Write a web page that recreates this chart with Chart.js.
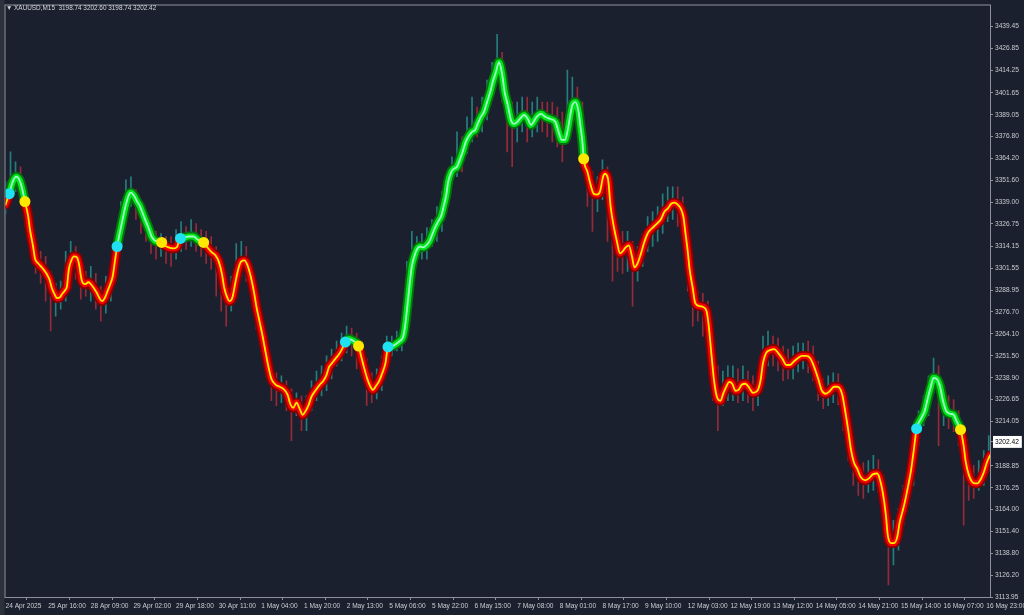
<!DOCTYPE html>
<html><head><meta charset="utf-8">
<script src="https://cdn.jsdelivr.net/npm/chart.js@4.4.1/dist/chart.umd.min.js"></script>
<style>
html,body{margin:0;padding:0;background:#1b202e;overflow:hidden;}
#wrap{position:relative;width:1024px;height:615px;}
#hdr{position:absolute;left:6px;top:4px;color:#d4d6da;font:6.4px "Liberation Sans",Arial,sans-serif;white-space:pre;}
canvas{display:block}
</style></head><body>
<div id="wrap"><canvas id="c" width="1024" height="615"></canvas><div id="hdr">▼ XAUUSD,M15  3198.74 3202.60 3198.74 3202.42</div></div>
<script>
// ---- x axis (bar index of M15 bars) ----
const timeLabels = ["24 Apr 2025","25 Apr 16:00","28 Apr 09:00","29 Apr 02:00","29 Apr 18:00","30 Apr 11:00","1 May 04:00","1 May 20:00","2 May 13:00","5 May 06:00","5 May 22:00","6 May 15:00","7 May 08:00","8 May 01:00","8 May 17:00","9 May 10:00","12 May 03:00","12 May 19:00","13 May 12:00","14 May 05:00","14 May 21:00","15 May 14:00","16 May 07:00","16 May 23:00"];
const barsPerLabel = 68;
const totalBars = 1570;
const barsPerCandle = 8;

// ---- y axis tick labels ----
const priceTicks = [3439.45,3426.85,3414.25,3401.65,3389.05,3376.80,3364.20,3351.60,3339.00,3326.75,3314.15,3301.55,3288.95,3276.70,3264.10,3251.50,3238.90,3226.65,3214.05,3188.85,3176.25,3164.00,3151.40,3138.80,3126.20,3113.95];
const lastPrice = 3202.42;
const priceMin = 3113.95, priceMax = 3451.38;

// ---- trend indicator line ----
const lineBar = [0,6,11,17,22,27,31,36,39,44,
47,52,58,65,70,74,79,82,87,90,
95,98,101,105,109,114,117,122,127,132,
135,141,146,149,154,159,162,167,171,174,
178,182,187,192,197,200,205,209,214,219,
224,229,233,238,243,249,254,260,267,273,
279,286,292,300,306,311,316,322,329,335,
340,345,349,354,357,362,367,372,376,381,
386,391,396,400,405,410,415,420,424,431,
437,443,450,454,459,464,469,474,478,483,
488,494,501,507,512,516,521,526,531,536,
542,548,555,563,567,572,577,582,586,591,
596,601,606,610,617,623,629,634,637,640,
642,645,648,652,656,661,666,671,676,680,
685,690,695,699,703,706,711,715,720,725,
730,734,739,744,749,753,758,763,768,773,
777,782,787,792,796,801,806,811,816,820,
827,833,838,842,847,854,861,869,877,882,
887,892,896,901,904,909,914,917,920,922,
928,933,938,943,948,953,956,961,965,970,
975,980,984,989,994,999,1003,1008,1013,1018,
1024,1029,1034,1039,1045,1051,1056,1062,1067,1072,
1076,1081,1084,1088,1091,1096,1100,1107,1113,1118,
1121,1126,1130,1135,1140,1145,1150,1154,1159,1164,
1169,1174,1180,1186,1192,1199,1204,1208,1213,1220,
1226,1232,1239,1245,1251,1258,1264,1270,1277,1283,
1289,1296,1302,1308,1315,1321,1327,1334,1339,1344,
1348,1353,1358,1364,1371,1377,1383,1390,1394,1399,
1404,1407,1412,1417,1422,1426,1433,1439,1444,1448,
1453,1460,1466,1471,1476,1480,1485,1490,1495,1500,
1506,1512,1517,1523,1528,1531,1536,1541,1546,1550,
1555,1560,1565,1570];
const lineValue = [3337.8,3344.0,3350.3,3353.7,3352.0,3346.3,3339.5,3331.5,3323.6,3313.9,
3307.1,3304.3,3302.0,3298.6,3295.2,3290.1,3286.1,3284.4,3285.0,3286.7,
3288.9,3291.2,3300.9,3306.0,3308.3,3307.7,3304.3,3294.1,3292.4,3293.5,
3292.9,3290.1,3287.2,3285.0,3282.7,3285.0,3287.8,3292.4,3296.9,3304.3,
3313.9,3321.3,3329.8,3337.8,3343.5,3344.6,3342.9,3340.1,3337.2,3332.7,
3328.1,3323.6,3319.6,3317.3,3316.8,3316.2,3314.5,3313.4,3312.8,3313.4,
3318.5,3319.1,3319.6,3319.6,3317.9,3316.8,3316.2,3313.4,3310.5,3308.8,
3305.4,3298.6,3290.1,3284.4,3282.7,3285.0,3294.1,3302.0,3305.4,3306.0,
3303.1,3296.9,3288.4,3279.9,3271.3,3262.8,3253.2,3244.1,3238.4,3235.0,
3233.9,3232.7,3229.3,3224.2,3221.9,3224.8,3221.4,3217.9,3219.7,3223.1,
3228.2,3231.6,3235.0,3237.3,3240.7,3245.2,3247.5,3249.8,3252.0,3254.9,
3259.4,3261.1,3260.0,3257.1,3251.5,3244.6,3238.4,3233.9,3232.1,3234.4,
3237.3,3241.8,3247.5,3256.6,3257.1,3258.3,3260.0,3262.3,3267.9,3277.0,
3283.8,3294.1,3302.6,3308.3,3312.2,3313.9,3313.4,3314.5,3316.8,3320.2,
3324.7,3328.1,3331.5,3337.2,3343.5,3350.9,3356.5,3358.2,3359.4,3363.9,
3369.0,3373.6,3377.0,3379.3,3380.4,3383.8,3387.8,3390.6,3396.3,3402.0,
3407.7,3413.3,3419.0,3412.2,3402.0,3394.6,3386.1,3383.8,3384.9,3386.6,
3388.9,3386.6,3383.2,3384.9,3387.8,3389.5,3387.8,3386.6,3384.9,3379.3,
3374.7,3374.7,3379.3,3389.5,3394.6,3396.3,3390.6,3382.1,3373.6,3363.9,
3356.5,3349.2,3344.0,3343.5,3345.2,3353.7,3355.4,3352.0,3336.7,3325.3,
3316.8,3310.0,3311.1,3313.4,3314.5,3308.3,3302.0,3304.3,3309.4,3315.6,
3321.3,3323.6,3325.3,3327.0,3329.3,3333.8,3335.5,3338.4,3338.9,3337.8,
3336.1,3331.0,3322.5,3311.1,3300.9,3290.1,3281.6,3279.9,3279.3,3277.0,
3270.2,3251.5,3237.3,3227.6,3225.9,3230.4,3234.4,3236.7,3235.6,3231.6,
3232.1,3235.0,3235.6,3233.3,3230.4,3231.6,3237.3,3247.5,3253.2,3254.9,
3255.4,3253.2,3249.8,3246.3,3246.3,3248.6,3250.3,3251.5,3251.5,3250.3,
3245.8,3238.4,3231.6,3229.9,3231.6,3233.9,3233.9,3229.9,3220.2,3208.9,
3198.6,3190.7,3187.3,3182.2,3180.5,3181.6,3183.9,3184.4,3181.6,3173.6,
3160.6,3149.2,3144.7,3144.7,3148.1,3156.6,3166.3,3176.5,3186.1,3196.4,
3210.0,3215.7,3220.2,3227.6,3234.4,3239.0,3238.4,3234.4,3225.9,3220.2,
3218.5,3217.9,3214.0,3209.4,3200.3,3191.8,3183.9,3179.9,3178.8,3178.8,
3181.0,3185.0,3190.7,3194.7];

// ---- trend change signals (bar index) ----
const upSignalBar = [6,178,279,542,610,1453];
const downSignalBar = [31,249,316,563,922,1523];

// ---- price wicks, one per 2 hours (8 bars) ----
const candleHigh = [3350.9,3367.9,3362.2,3359.4,3348.0,3333.8,3317.9,3311.1,3308.3,3299.7,
3292.9,3294.1,3311.1,3316.8,3313.9,3304.3,3299.7,3302.6,3298.6,3291.2,
3296.9,3304.3,3317.9,3339.5,3352.0,3353.7,3346.3,3339.5,3333.8,3327.0,
3322.5,3321.3,3319.6,3319.6,3323.6,3328.1,3325.3,3329.3,3327.0,3323.6,
3322.5,3319.6,3313.9,3305.4,3296.9,3296.9,3315.6,3316.8,3313.9,3304.3,
3288.4,3272.5,3262.8,3247.5,3241.8,3240.1,3237.3,3232.7,3230.4,3228.7,
3228.7,3237.3,3242.9,3245.8,3251.5,3255.4,3260.0,3264.5,3268.5,3267.4,
3264.5,3260.0,3249.8,3241.8,3244.1,3251.5,3262.8,3262.8,3265.7,3268.5,
3305.4,3322.5,3319.6,3321.3,3324.7,3329.3,3336.7,3345.2,3356.5,3365.1,
3379.3,3376.4,3387.8,3399.1,3393.5,3399.1,3408.8,3419.0,3434.9,3424.7,
3407.7,3396.3,3396.3,3399.1,3399.1,3396.3,3399.1,3396.3,3396.3,3396.3,
3393.5,3390.6,3414.5,3410.5,3404.8,3396.3,3370.7,3356.5,3353.7,3363.4,
3359.4,3342.3,3325.3,3322.5,3322.5,3316.8,3313.9,3321.3,3331.0,3333.8,
3336.7,3344.0,3348.0,3348.0,3348.0,3342.3,3322.5,3302.6,3288.4,3287.2,
3282.7,3265.7,3245.8,3242.9,3245.8,3245.8,3244.1,3245.8,3242.9,3240.1,
3241.8,3262.8,3265.7,3262.8,3261.7,3257.1,3255.4,3257.1,3258.8,3258.8,
3260.0,3257.1,3248.6,3238.4,3240.1,3241.8,3241.2,3231.6,3220.2,3203.2,
3191.8,3190.7,3191.8,3194.7,3192.4,3183.3,3163.4,3157.7,3164.6,3177.6,
3189.0,3200.3,3220.2,3228.7,3240.1,3250.3,3245.8,3234.4,3228.7,3226.5,
3220.2,3211.7,3194.7,3189.0,3191.8,3197.5,3206.0];
const candleLow = [3332.7,3339.5,3345.2,3339.5,3325.3,3311.1,3298.6,3292.9,3282.7,3265.7,
3274.2,3278.2,3282.7,3298.6,3295.2,3283.8,3285.5,3282.7,3278.2,3271.3,
3275.9,3282.7,3294.1,3315.6,3331.0,3336.7,3329.3,3321.3,3316.8,3310.0,
3306.6,3308.3,3304.3,3302.6,3306.6,3311.1,3312.2,3313.9,3311.1,3308.3,
3304.3,3300.9,3285.5,3277.0,3268.5,3277.0,3291.2,3296.9,3294.1,3283.8,
3266.8,3254.3,3240.1,3225.9,3223.1,3224.8,3220.2,3203.2,3217.4,3208.9,
3208.9,3220.2,3225.9,3228.7,3231.6,3238.4,3245.8,3248.6,3253.2,3251.5,
3244.1,3240.1,3223.1,3224.8,3227.0,3231.6,3242.9,3251.5,3254.3,3254.3,
3265.7,3302.6,3306.6,3306.6,3306.6,3313.9,3316.8,3322.5,3336.7,3350.9,
3353.7,3356.5,3366.8,3373.6,3376.4,3379.3,3386.1,3399.1,3407.7,3396.3,
3367.9,3359.4,3373.6,3379.3,3373.6,3376.4,3379.3,3379.3,3376.4,3373.6,
3370.7,3362.2,3373.6,3387.8,3382.1,3362.2,3336.7,3322.5,3333.8,3340.6,
3316.8,3294.1,3299.7,3298.6,3299.7,3279.9,3294.1,3302.6,3311.1,3313.9,
3316.8,3321.3,3328.1,3329.3,3325.3,3316.8,3288.4,3268.5,3271.3,3262.8,
3257.1,3225.9,3208.9,3223.1,3225.9,3225.9,3224.8,3225.9,3224.8,3220.2,
3223.1,3237.3,3245.8,3245.8,3242.9,3237.3,3238.4,3238.4,3242.4,3244.1,
3241.8,3237.3,3225.9,3221.4,3223.1,3224.8,3223.6,3208.9,3191.8,3177.6,
3171.9,3170.2,3173.6,3174.8,3173.6,3154.9,3120.8,3132.2,3140.7,3154.9,
3166.3,3177.6,3200.3,3211.7,3217.4,3230.4,3200.3,3211.7,3210.0,3208.3,
3200.3,3154.9,3169.1,3170.2,3174.8,3177.6,3186.1];

// ---------------- build ----------------
const linePts = lineBar.map((b, i) => ({ x: b, y: lineValue[i] }));
const valueAt = b => lineValue[lineBar.indexOf(b)];
const upDots = upSignalBar.map(b => ({ x: b, y: valueAt(b) }));
const downDots = downSignalBar.map(b => ({ x: b, y: valueAt(b) }));
const candlePts = candleHigh.map((h, i) => ({ x: i * barsPerCandle, y: [candleLow[i], h] }));
const candleColors = candleHigh.map((h, i) => {
  const mid = (h + candleLow[i]) / 2;
  const prev = i ? (candleHigh[i - 1] + candleLow[i - 1]) / 2 : mid;
  return mid >= prev ? 'rgba(40,150,145,0.8)' : 'rgba(180,45,60,0.8)';
});

const isUp = x => upSignalBar.some((u, k) => x >= u && x < downSignalBar[k]);
function trendLine(width, upCol, dnCol, order) {
  return {
    type: 'line', data: linePts, borderWidth: width, borderColor: dnCol,
    pointRadius: 0, pointHoverRadius: 0, fill: false,
    cubicInterpolationMode: 'monotone', borderCapStyle: 'round', borderJoinStyle: 'round',
    segment: { borderColor: c => isUp(c.p0.parsed.x) ? upCol : dnCol },
    order
  };
}
function dots(data, col) {
  return { type: 'line', data, showLine: false, pointRadius: 5.5, pointHoverRadius: 5.5,
    pointBackgroundColor: col, pointBorderWidth: 0, order: 0 };
}

const font = { family: 'Liberation Sans', size: 6.6 };
const frame = {
  id: 'frame',
  beforeDraw(chart) {
    const { ctx, chartArea: a } = chart;
    ctx.save();
    ctx.fillStyle = '#2c313c';
    ctx.fillRect(0, 0, a.left - 1, chart.height);
    ctx.strokeStyle = '#8d929a';
    ctx.lineWidth = 1;
    ctx.strokeRect(a.left - 0.5, a.top - 0.5, a.right - a.left + 1, a.bottom - a.top + 1);
    ctx.restore();
  }
};

new Chart(document.getElementById('c'), {
  type: 'line',
  data: {
    datasets: [
      { type: 'bar', data: candlePts, backgroundColor: candleColors, barThickness: 1, grouped: false, order: 10 },
      trendLine(10, '#05700c', '#8a0000', 4),
      trendLine(6.2, '#00e41a', '#f40000', 3),
      trendLine(1.8, '#9effc6', '#ffee00', 2),
      dots(upDots, '#1fe1f2'),
      dots(downDots, '#ffe800')
    ]
  },
  options: {
    responsive: false, animation: false, devicePixelRatio: 1, events: [],
    layout: { padding: { left: 3, top: 3, right: 0, bottom: 0 } },
    plugins: { legend: { display: false }, tooltip: { enabled: false } },
    scales: {
      x: {
        type: 'linear', min: 0, max: totalBars, offset: false,
        afterBuildTicks: s => { s.ticks = timeLabels.map((_, i) => ({ value: i * barsPerLabel })); },
        afterFit: s => { s.height = 18; s.paddingLeft = 0; s.paddingRight = 0; },
        ticks: { autoSkip: false, maxRotation: 0, minRotation: 0, align: 'start', padding: 2,
          color: '#c9ccd1', font, callback: (v, i) => timeLabels[i] },
        grid: { drawOnChartArea: false, drawTicks: true, tickLength: 3, color: '#8d929a' },
        border: { display: false }
      },
      y: {
        type: 'linear', position: 'right', min: priceMin, max: priceMax,
        afterBuildTicks: s => { s.ticks = priceTicks.concat([lastPrice]).sort((a, b) => b - a).map(v => ({ value: v })); },
        afterFit: s => { s.width = 34; s.paddingTop = 0; s.paddingBottom = 0; },
        ticks: { autoSkip: false, padding: 2, font,
          color: c => c.tick && c.tick.value === lastPrice ? '#000000' : '#c9ccd1',
          showLabelBackdrop: c => !!(c.tick && c.tick.value === lastPrice),
          backdropColor: '#ffffff', backdropPadding: { top: 2, bottom: 2, left: 2, right: 3 },
          callback: v => Number(v).toFixed(2) },
        grid: { drawOnChartArea: false, drawTicks: true, tickLength: 3, color: '#8d929a' },
        border: { display: false }
      }
    }
  },
  plugins: [frame]
});
</script>
</body></html>
